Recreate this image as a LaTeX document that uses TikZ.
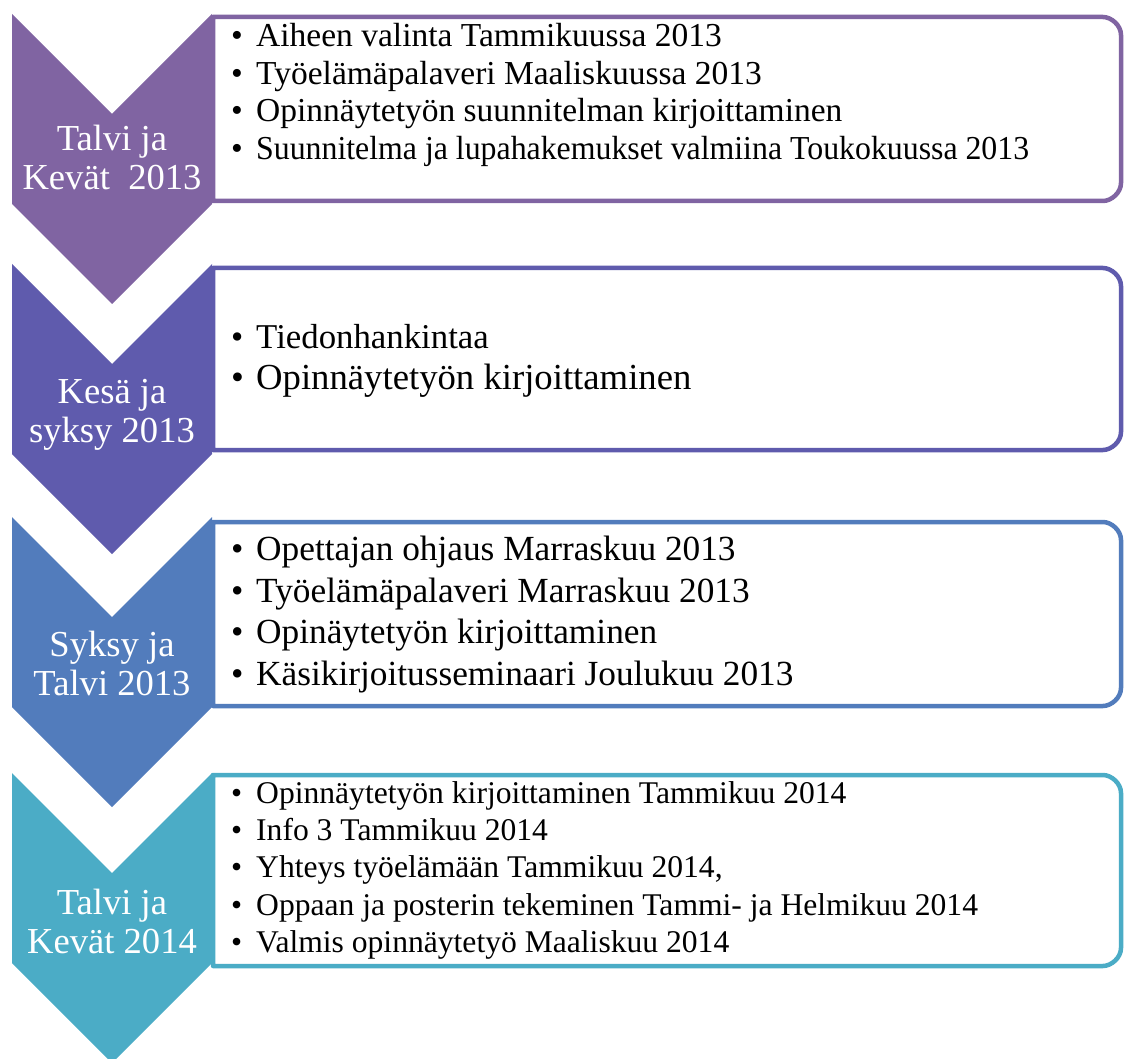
\documentclass[tikz,border=0pt]{standalone}
\usepackage{fontspec}
\setmainfont{Liberation Serif}

\definecolor{phaseA}{HTML}{8064A2}
\definecolor{phaseB}{HTML}{5F5BAD}
\definecolor{phaseC}{HTML}{527CBC}
\definecolor{phaseD}{HTML}{4BACC6}

% bullet followed by a fixed indent
\newcommand\bul{\makebox[25pt][l]{•}}

% downward chevron with its top edge at y = #1
\newcommand\chevron[2]{%
  \fill[#2] (12,#1) -- (112,#1+100) -- (212,#1) -- (212,#1+190)
    -- (112,#1+290) -- (12,#1+190) -- cycle;}

% text panel: square on the left, rounded on the right
\newcommand\panelbox[3]{%
  \draw[panel=#3] (213,#1) -- (1103,#1)
    .. controls (1111.06,#1) and (1121,#1+8.06) .. (1121,#1+18)
    -- (1121,#2-18)
    .. controls (1121,#2-8.06) and (1111.06,#2) .. (1103,#2)
    -- (213,#2) -- cycle;}

\begin{document}
\begin{tikzpicture}[x=1pt,y=-1pt,
  panel/.style={draw=#1, line width=4.5pt, fill=white, line join=round},
  phase/.style={text=white, anchor=base, inner sep=0pt,
    font=\fontsize{36.6}{40}\selectfont},
  item/.style={anchor=base west, inner sep=0pt,
    font=\fontsize{#1}{#1}\selectfont}]

\useasboundingbox (0,0) rectangle (1125,1059);

% chevrons
\chevron{14}{phaseA}
\chevron{264}{phaseB}
\chevron{517}{phaseC}
\chevron{773}{phaseD}

% panels
\panelbox{17}{201}{phaseA}
\panelbox{268}{450}{phaseB}
\panelbox{522}{706}{phaseC}
\panelbox{775}{966}{phaseD}

% phase labels
\node[phase] (p1a) at (112,151) {Talvi ja};
\node[phase] (p1b) at (112,190) {Kevät~~2013};
\node[phase] (p2a) at (112,403) {Kesä ja};
\node[phase] (p2b) at (112,442) {syksy 2013};
\node[phase] (p3a) at (112,656) {Syksy ja};
\node[phase] (p3b) at (112,695) {Talvi 2013};
\node[phase] (p4a) at (112,914) {Talvi ja};
\node[phase] (p4b) at (112,953) {Kevät 2014};

% first panel
\node[item=33.5] (a1) at (231,47)  {\bul Aiheen valinta Tammikuussa 2013};
\node[item=33.5] (a2) at (231,85)  {\bul Työelämäpalaveri Maaliskuussa 2013};
\node[item=33.5] (a3) at (231,122) {\bul Opinnäytetyön suunnitelman kirjoittaminen};
\node[item=33.5] (a4) at (231,160) {\bul \scalebox{0.95}[1]{Suunnitelma ja lupahakemukset valmiina Toukokuussa 2013}};

% second panel
\node[item=34.8] (b1) at (231,349) {\bul Tiedonhankintaa};
\node[item=36.7] (b2) at (231,390) {\bul Opinnäytetyön kirjoittaminen};

% third panel
\node[item=35.3] (c1) at (231,560) {\bul Opettajan ohjaus Marraskuu 2013};
\node[item=35.3] (c2) at (231,602) {\bul Työelämäpalaveri Marraskuu 2013};
\node[item=35.3] (c3) at (231,643) {\bul Opinäytetyön kirjoittaminen};
\node[item=35.3] (c4) at (231,685) {\bul Käsikirjoitusseminaari Joulukuu 2013};

% fourth panel
\node[item=31.6] (d1) at (231,803) {\bul Opinnäytetyön kirjoittaminen Tammikuu 2014};
\node[item=31.6] (d2) at (231,840) {\bul Info 3 Tammikuu 2014};
\node[item=31.6] (d3) at (231,877) {\bul Yhteys työelämään Tammikuu 2014,};
\node[item=31.6] (d4) at (231,915) {\bul Oppaan ja posterin tekeminen Tammi- ja Helmikuu 2014};
\node[item=31.6] (d5) at (231,952) {\bul Valmis opinnäytetyö Maaliskuu 2014};

\end{tikzpicture}
\end{document}
